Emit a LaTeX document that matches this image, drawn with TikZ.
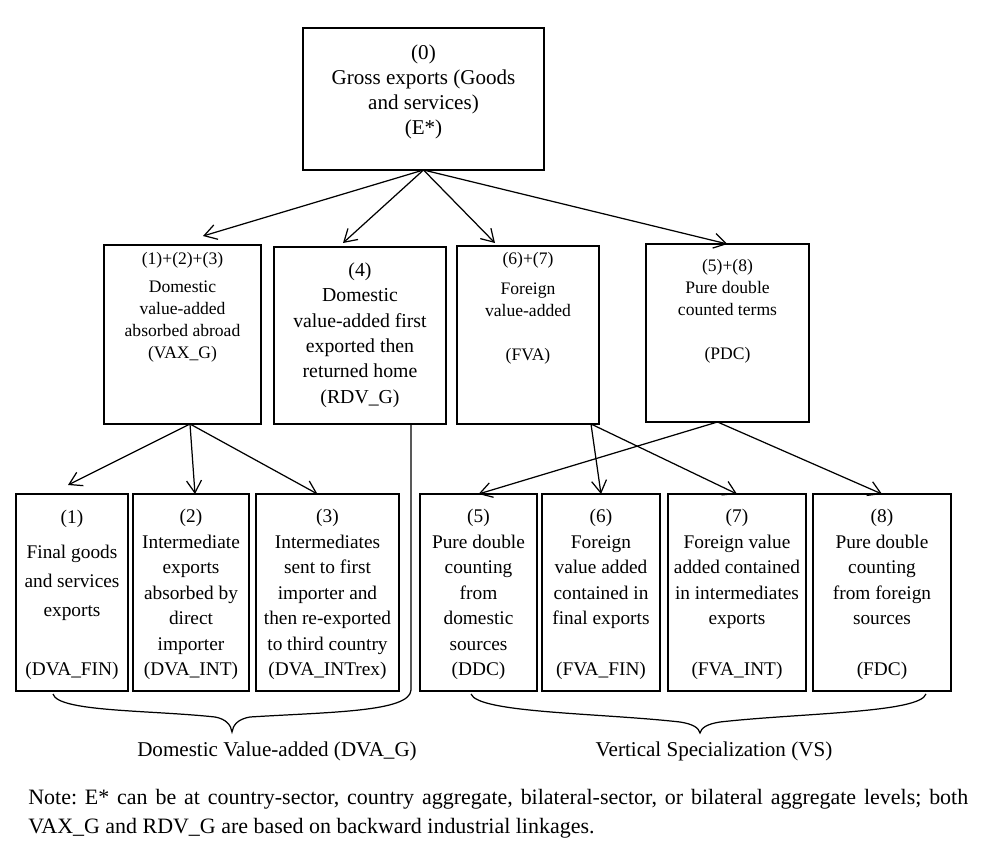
\documentclass[tikz,border=0pt]{standalone}
\usepackage{fontspec}
\setmainfont{Liberation Serif}
\usetikzlibrary{arrows.meta,calc}
\frenchspacing

\tikzset{
  box/.style={draw,line width=0.9pt,inner sep=0pt,outer sep=0pt},
  txt/.style={align=center,inner sep=0pt,anchor=north},
  arr/.style={line width=0.7pt,-{Straight Barb[length=7pt,width=8.5pt,line width=0.7pt]}},
  fbig/.style={font=\fontsize{12}{14.2}\selectfont},
  fmid/.style={font=\fontsize{11}{14.5}\selectfont},
  fsmall/.style={font=\fontsize{10}{12.5}\selectfont},
  fnote/.style={font=\fontsize{12.5}{16.5}\selectfont}
}

\begin{document}
\begin{tikzpicture}[x=0.02cm,y=-0.02cm]
  \useasboundingbox (0,0) rectangle (1002,848);

  \node[box,line width=1.6pt,minimum width=4.82cm,minimum height=2.84cm] (gross) at (423.5,99) {};
  \node[box,minimum width=3.14cm,minimum height=3.58cm] (vax) at (182.5,334.5) {};
  \node[box,minimum width=3.44cm,minimum height=3.54cm] (rdv) at (360,335.5) {};
  \node[box,minimum width=2.84cm,minimum height=3.56cm] (fva) at (528,335) {};
  \node[box,minimum width=3.26cm,minimum height=3.56cm] (pdc) at (727.5,333) {};

  \node[box,minimum width=2.24cm,minimum height=3.94cm] (fin) at (72,592.5) {};
  \node[box,minimum width=2.32cm,minimum height=3.94cm] (int) at (191,592.5) {};
  \node[box,minimum width=2.86cm,minimum height=3.94cm] (intrex) at (327.5,592.5) {};
  \node[box,minimum width=2.34cm,minimum height=3.94cm] (ddc) at (478.5,592.5) {};
  \node[box,minimum width=2.36cm,minimum height=3.94cm] (fvafin) at (601,592.5) {};
  \node[box,minimum width=2.76cm,minimum height=3.94cm] (fvaint) at (737,592.5) {};
  \node[box,minimum width=2.76cm,minimum height=3.94cm] (fdc) at (882,592.5) {};

  \node[txt,fbig] (grosstxt) at ($(gross.north)+(0,17)$) {(0)\\Gross exports (Goods\\and services)\\(E*)};
  \node[txt,fsmall] (vaxtxt) at ($(vax.north)+(0,7)$) {(1)+(2)+(3)\\[3.5pt]Domestic\\value-added\\absorbed abroad\\(VAX\_G)};
  \node[txt,font=\fontsize{11.25}{14.4}\selectfont] (rdvtxt) at ($(rdv.north)+(0,15.5)$) {(4)\\Domestic\\value-added first\\exported then\\returned home\\(RDV\_G)};
  \node[txt,fsmall] (fvatxt) at ($(fva.north)+(0,6)$) {(6)+(7)\\[4.5pt]Foreign\\value-added\\[12.5pt](FVA)};
  \node[txt,fsmall] (pdctxt) at ($(pdc.north)+(0,15)$) {(5)+(8)\\Pure double\\counted terms\\[12.5pt](PDC)};

  \node[txt,font=\fontsize{11}{16.7}\selectfont] (fintxt) at ($(fin.north)+(0,16)$) {(1)\\[2.8pt]Final goods\\and services\\exports\\[16.7pt](DVA\_FIN)};
  \node[txt,fmid] (inttxt) at ($(int.north)+(0,15)$) {(2)\\Intermediate\\exports\\absorbed by\\direct\\importer\\(DVA\_INT)};
  \node[txt,fmid] (intrextxt) at ($(intrex.north)+(0,15)$) {(3)\\Intermediates\\sent to first\\importer and\\then re-exported\\to third country\\(DVA\_INTrex)};
  \node[txt,fmid] (ddctxt) at ($(ddc.north)+(0,15)$) {(5)\\Pure double\\counting\\from\\domestic\\sources\\(DDC)};
  \node[txt,fmid] (fvafintxt) at ($(fvafin.north)+(0,15)$) {(6)\\Foreign\\value added\\contained in\\final exports\\[14.5pt](FVA\_FIN)};
  \node[txt,fmid] (fvainttxt) at ($(fvaint.north)+(0,15)$) {(7)\\Foreign value\\added contained\\in intermediates\\exports\\[14.5pt](FVA\_INT)};
  \node[txt,fmid] (fdctxt) at ($(fdc.north)+(0,15)$) {(8)\\Pure double\\counting\\from foreign\\sources\\[14.5pt](FDC)};

  \coordinate (vaxfoot) at ($(vax.south)+(7.5,0)$);
  \coordinate (fvafoot) at ($(fva.south)+(63,0)$);
  \coordinate (pdcfoot) at ($(pdc.south)+(-10,0)$);

  \draw[arr] (gross.south) -- ($(vax.north)+(20.5,-9)$);
  \draw[arr] (gross.south) -- ($(rdv.north)+(-17,-4)$);
  \draw[arr] (gross.south) -- ($(fva.north)+(-33,-3)$);
  \draw[arr] (gross.south) -- (pdc.north);
  \draw[arr] (vaxfoot) -- ($(fin.north)+(-4,-9)$);
  \draw[arr] (vaxfoot) -- ($(int.north)+(4,0)$);
  \draw[arr] (vaxfoot) -- ($(intrex.north)+(-10,0)$);
  \draw[arr] (fvafoot) -- (fvafin.north);
  \draw[arr] (fvafoot) -- (fvaint.north);
  \draw[arr] (pdcfoot) -- (ddc.north);
  \draw[arr] (pdcfoot) -- (fdc.north);

  \draw[line width=0.7pt] ($(rdv.south)+(51,0)$) -- (411,690)
    .. controls (410,712) and (330,712) .. (250,717)
    .. controls (238,719) and (233,725) .. (232,732)
    .. controls (231,725) and (226,719) .. (215,717)
    .. controls (150,710) and (58,712) .. (53,694);
  \draw[line width=0.7pt] (471,694)
    .. controls (478,713) and (600,713) .. (680,722)
    .. controls (693,724) and (699,728) .. (700,733)
    .. controls (701,728) and (707,724) .. (720,722)
    .. controls (800,713) and (920,713) .. (926,694);

  \node[fbig] (dvalbl) at (277,751) {Domestic Value-added (DVA\_G)};
  \node[fbig] (vslbl) at (714,751) {Vertical Specialization (VS)};
  \node[fnote,anchor=north west,align=justify,text width=18.8cm,inner sep=0pt] (note) at (28,789) {Note: E* can be at country-sector, country aggregate, bilateral-sector, or bilateral aggregate levels; both VAX\_G and RDV\_G are based on backward industrial linkages.};
\end{tikzpicture}
\end{document}
